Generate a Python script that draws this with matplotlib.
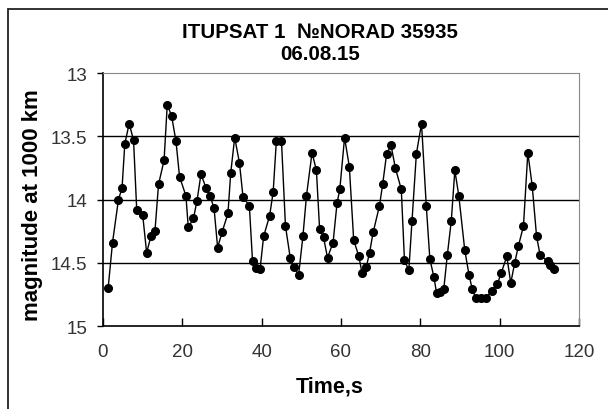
import matplotlib
matplotlib.use("Agg")
import matplotlib.pyplot as plt
from matplotlib.patches import Rectangle

plt.rcParams['font.family'] = ['Liberation Sans', 'DejaVu Sans']

# time since start of pass, s
time_s = [
    1.3, 2.4, 3.9, 4.8, 5.5, 6.6, 7.7, 8.5, 10.0, 11.0,
    12.1, 13.1, 14.0, 15.4, 16.2, 17.3, 18.4, 19.3, 20.9, 21.5,
    22.8, 23.7, 24.7, 26.0, 27.0, 28.0, 28.9, 30.0, 31.5, 32.2,
    33.2, 34.4, 35.3, 36.9, 37.7, 38.6, 39.6, 40.5, 42.0, 42.9,
    43.7, 45.0, 46.0, 47.2, 48.1, 49.3, 50.4, 51.3, 52.7, 53.8,
    54.6, 55.6, 56.6, 58.0, 59.0, 59.7, 60.9, 62.1, 63.2, 64.5,
    65.3, 66.4, 67.2, 68.1, 69.7, 70.5, 71.5, 72.6, 73.7, 75.2,
    76.0, 77.1, 77.9, 79.0, 80.3, 81.5, 82.4, 83.4, 84.1, 85.0,
    85.9, 86.8, 87.8, 88.7, 89.7, 91.2, 92.3, 93.1, 94.0, 95.2,
    96.5, 98.0, 99.4, 100.4, 101.8, 102.8, 103.8, 104.7, 106.0, 107.1,
    108.2, 109.3, 110.2, 112.2, 112.8, 113.7,
]

# standard magnitude reduced to 1000 km
magnitude = [
    14.70, 14.34, 14.00, 13.91, 13.56, 13.40, 13.53, 14.08, 14.12, 14.42,
    14.29, 14.25, 13.88, 13.69, 13.25, 13.34, 13.54, 13.82, 13.97, 14.22,
    14.15, 14.01, 13.80, 13.91, 13.97, 14.07, 14.38, 14.26, 14.11, 13.79,
    13.51, 13.71, 13.98, 14.05, 14.49, 14.54, 14.55, 14.29, 14.13, 13.94,
    13.54, 13.54, 14.21, 14.46, 14.53, 14.60, 14.29, 13.97, 13.63, 13.77,
    14.23, 14.30, 14.46, 14.34, 14.03, 13.92, 13.51, 13.74, 14.32, 14.45,
    14.58, 14.53, 14.42, 14.26, 14.05, 13.88, 13.64, 13.57, 13.75, 13.92,
    14.48, 14.56, 14.17, 13.64, 13.40, 14.05, 14.47, 14.61, 14.74, 14.73,
    14.71, 14.44, 14.17, 13.77, 13.97, 14.40, 14.60, 14.71, 14.78, 14.78,
    14.78, 14.72, 14.67, 14.58, 14.45, 14.66, 14.50, 14.37, 14.21, 13.63,
    13.89, 14.29, 14.44, 14.49, 14.52, 14.55,
]

x_ticks = [0, 20, 40, 60, 80, 100, 120]
y_ticks = [13, 13.5, 14, 14.5, 15]
y_tick_labels = ['13', '13.5', '14', '14.5', '15']

fig = plt.figure(figsize=(6.08, 4.10), dpi=100)
ax = fig.add_axes([0.1694, 0.2024, 0.7829, 0.6171])

# outer chart frame (right and bottom edges fall outside the image)
fig.patches.append(Rectangle((0.013, -0.05), 1.2, 1.025, transform=fig.transFigure,
                             fill=False, edgecolor='#222222', linewidth=1.3))

ax.plot(time_s, magnitude, color='black', linewidth=1.0,
        marker='o', markersize=5.5, markerfacecolor='black', markeredgecolor='black')

ax.set_xlim(0, 120)
ax.set_ylim(15, 13)
ax.set_xticks(x_ticks)
ax.set_yticks(y_ticks)
ax.set_yticklabels(y_tick_labels)

for y in [13.5, 14, 14.5]:
    ax.axhline(y, color='black', linewidth=1.0, zorder=0)

ax.tick_params(axis='x', direction='in', length=6, width=1, labelsize=13.5, pad=12,
               labelcolor='#333333', color='black')
ax.tick_params(axis='y', direction='out', length=4.5, width=1, labelsize=13.5, pad=7,
               labelcolor='#333333', color='black')

ax.spines['left'].set_color('black')
ax.spines['bottom'].set_color('black')
ax.spines['left'].set_linewidth(1.2)
ax.spines['bottom'].set_linewidth(1.2)
ax.spines['top'].set_color('#888888')
ax.spines['right'].set_color('#888888')

fig.text(0.543, 0.0415, 'Time,s', ha='center', va='baseline',
         fontsize=15.5, fontweight='bold')
fig.text(0.053, 0.5, 'magnitude at 1000 km', ha='center', va='center', rotation=90,
         fontsize=16, fontweight='bold')

fig.text(0.527, 0.9073, 'ITUPSAT 1  \u2116NORAD 35935', ha='center', va='baseline',
         fontsize=14.8, fontweight='bold')
fig.text(0.527, 0.8537, '06.08.15', ha='center', va='baseline',
         fontsize=14.8, fontweight='bold')

fig.savefig('out.png', dpi=100)
